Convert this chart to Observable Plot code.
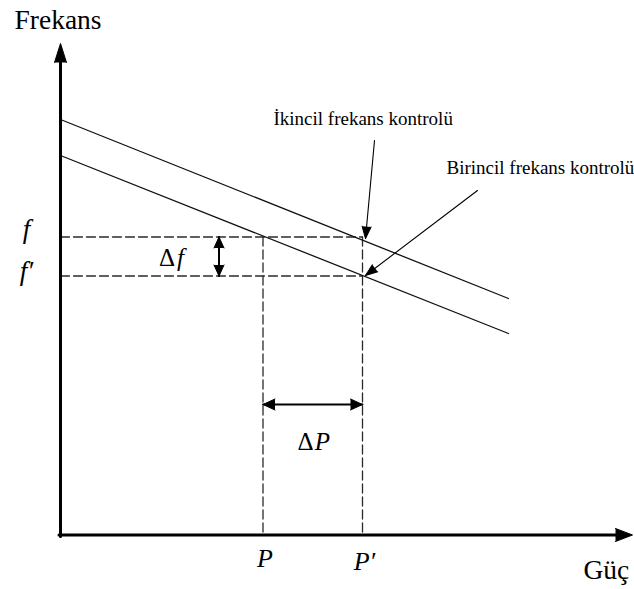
<!DOCTYPE html>
<html>
<head>
<meta charset="utf-8">
<script src="https://cdn.jsdelivr.net/npm/d3@7"></script>
<script src="https://cdn.jsdelivr.net/npm/@observablehq/plot@0.6"></script>
<style>
  html, body { margin: 0; padding: 0; background: #fff; }
</style>
</head>
<body>
<div id="chart"></div>
<script>
// ---- data (in diagram units: Güç on x, Frekans on y) ----
const axisEnd = { x: 114.4, y: 98.3 };
const droopUpper = [{ p: 0, f: 83.1 }, { p: 89.6, f: 47.3 }];
const droopLower = [{ p: 0, f: 75.9 }, { p: 89.6, f: 40.3 }];
const freqLevels = [59.6, 51.8];       // f, f'
const powerLevels = [40.5, 60.4];      // P, P'
const freqLabels = ["f", "f\u2032"];
const powerLabels = ["P", "P\u2032"];
const deltaF = { p: 31.7, from: 59.6, to: 51.8 };
const deltaP = { f: 26.1, from: 40.5, to: 60.4 };
const annotationTexts = ["İkincil frekans kontrolü", "Birincil frekans kontrolü"];
const annotationFrom = [[62.8, 78.9], [83.4, 68.9]];
const annotationTo = [[61.0, 59.3], [61.0, 51.9]];
const annotationAnchor = [[42.6, 83.3], [77.2, 73.5]];

// ---- helpers ----
const ang = (x1, y1, x2, y2) => Math.atan2(x2 - x1, y2 - y1) * 180 / Math.PI;
const head = (x1, y1, x2, y2) => ({ x: x2, y: y2, a: ang(x1, y1, x2, y2) });

const hDash = [];
freqLevels.forEach(f => { hDash.push({ x: 0, y: f, k: f }, { x: powerLevels[1], y: f, k: f }); });
const vDash = [];
powerLevels.forEach(p => { vDash.push({ x: p, y: freqLevels[0], k: p }, { x: p, y: 0, k: p }); });

const annoLines = [];
annotationFrom.forEach((s, i) => {
  annoLines.push({ x: s[0], y: s[1], k: i }, { x: annotationTo[i][0], y: annotationTo[i][1], k: i });
});
const annoHeads = annotationFrom.map((s, i) => head(s[0], s[1], annotationTo[i][0], annotationTo[i][1]));
const annoText = annotationTexts.map((t, i) => ({ t, x: annotationAnchor[i][0], y: annotationAnchor[i][1] }));

const dblHeads = [
  head(deltaF.p, deltaF.to, deltaF.p, deltaF.from),
  head(deltaF.p, deltaF.from, deltaF.p, deltaF.to)
];
const dblHeadsP = [
  head(deltaP.to, deltaP.f, deltaP.from, deltaP.f),
  head(deltaP.from, deltaP.f, deltaP.to, deltaP.f)
];

const headOpts = { x: "x", y: "y", rotate: "a", shape: "spike", anchor: "end", fill: "#000", stroke: "#000", strokeWidth: 1 };
const dash = { x: "x", y: "y", z: "k", stroke: "#2a2a2a", strokeWidth: 1.3, strokeDasharray: "9,4" };
const txt = { x: "x", y: "y", text: "t", fill: "#000", fontFamily: "Liberation Serif" };

const chart = Plot.plot({
  width: 634,
  height: 589,
  marginLeft: 60,
  marginRight: 2,
  marginTop: 43,
  marginBottom: 54.5,
  x: { domain: [0, axisEnd.x], axis: null },
  y: { domain: [0, axisEnd.y], axis: null },
  style: { background: "#fff", overflow: "visible", fontFamily: "Liberation Serif" },
  marks: [
    // dashed guide lines
    Plot.line(hDash, dash),
    Plot.line(vDash, dash),
    // droop characteristics
    Plot.line(droopUpper, { x: "p", y: "f", stroke: "#111", strokeWidth: 1.3 }),
    Plot.line(droopLower, { x: "p", y: "f", stroke: "#111", strokeWidth: 1.3 }),
    // axes
    Plot.line([{ x: -0.3, y: 0 }, { x: axisEnd.x - 3, y: 0 }], { x: "x", y: "y", stroke: "#000", strokeWidth: 3 }),
    Plot.line([{ x: 0, y: -0.3 }, { x: 0, y: axisEnd.y - 3 }], { x: "x", y: "y", stroke: "#000", strokeWidth: 3 }),
    Plot.vector([head(0, 0, axisEnd.x, 0)], { ...headOpts, length: 17, r: 6.5 }),
    Plot.vector([head(0, 0, 0, axisEnd.y)], { ...headOpts, length: 19, r: 6 }),
    // delta f arrow
    Plot.line([{ x: deltaF.p, y: deltaF.from }, { x: deltaF.p, y: deltaF.to }], { x: "x", y: "y", stroke: "#000", strokeWidth: 2 }),
    Plot.vector(dblHeads, { ...headOpts, length: 11, r: 5 }),
    // delta P arrow
    Plot.line([{ x: deltaP.from, y: deltaP.f }, { x: deltaP.to, y: deltaP.f }], { x: "x", y: "y", stroke: "#000", strokeWidth: 2 }),
    Plot.vector(dblHeadsP, { ...headOpts, length: 12, r: 5.5 }),
    // annotation arrows
    Plot.line(annoLines, { x: "x", y: "y", z: "k", stroke: "#000", strokeWidth: 1.1 }),
    Plot.vector(annoHeads, { ...headOpts, length: 12, r: 4.5 }),
    Plot.text(annoText, { ...txt, textAnchor: "start", fontSize: 19 }),
    // axis titles
    Plot.text([{ t: "Frekans", x: -9.2, y: 103.0 }], { ...txt, textAnchor: "start", fontSize: 27.5 }),
    Plot.text([{ t: "Güç", x: 104.6, y: -7.0 }], { ...txt, textAnchor: "start", fontSize: 27.5 }),
    // level labels
    Plot.text(freqLevels.map((v, i) => ({ t: freqLabels[i], x: -6.8, y: v + [1.6, 1.0][i] })), { ...txt, fontStyle: "italic", fontSize: 27 }),
    Plot.text(powerLevels.map((v, i) => ({ t: powerLabels[i], x: v + 0.4, y: [-4.8, -5.4][i] })), { ...txt, fontStyle: "italic", fontSize: 26 }),
    // delta labels: upright Δ, italic symbol
    Plot.text([{ t: "Δ", x: 21.3, y: 55.4 }, { t: "Δ", x: 49.0, y: 18.6 }], { ...txt, fontSize: 25 }),
    Plot.text([{ t: "f", x: 24.0, y: 55.4 }, { t: "P", x: 52.4, y: 18.6 }], { ...txt, fontStyle: "italic", fontSize: 25 })
  ]
});
document.getElementById("chart").appendChild(chart);
</script>
</body>
</html>
